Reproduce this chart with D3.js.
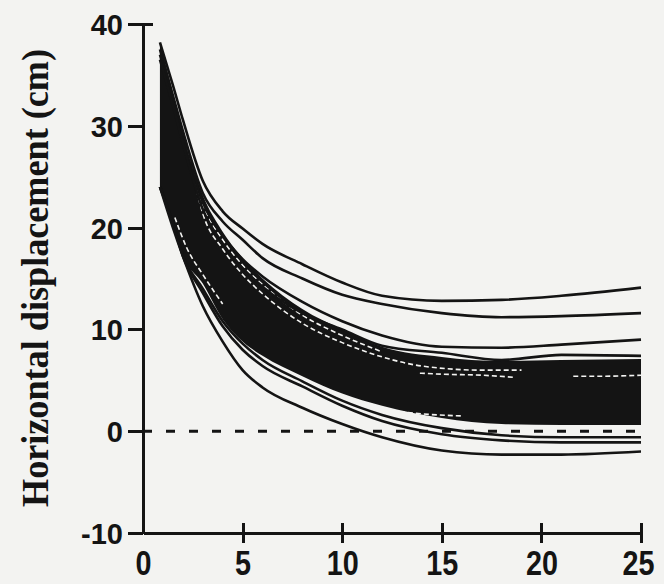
<!DOCTYPE html>
<html>
<head>
<meta charset="utf-8">
<script src="https://cdn.jsdelivr.net/npm/d3@7"></script>
<style>
  html, body { margin: 0; padding: 0; background: #f3f3f1; }
  svg { display: block; }
</style>
</head>
<body>
<svg id="chart" width="664" height="584"></svg>
<script>
// ---- data ----
const xTicks = [0, 5, 10, 15, 20, 25];
const yTicks = [-10, 0, 10, 20, 30, 40];
const yTitle = "Horizontal displacement (cm)";

// common sampling positions (x, time axis)
const xs = [0.85, 1.5, 2, 3, 4, 5, 6, 8, 10, 12, 15, 18, 21, 25];

// dense black band of overlapping curves: upper and lower envelope
const bandTop    = [38.2, 33.2, 29.4, 23.2, 19.6, 17.0, 15.0, 12.0, 10.0, 8.3, 7.3, 6.9, 7.0, 7.1];
const bandBottom = [24.0, 20.5, 17.3, 14.5, 11.0, 8.8, 7.4, 5.4, 3.7, 2.5, 1.3, 0.7, 0.6, 0.6];

// individual curves that separate from the band
const curveTop1   = [38.2, 34.0, 30.6, 24.6, 21.6, 19.9, 18.4, 16.4, 14.6, 13.3, 12.8, 12.9, 13.3, 14.1];
const curveTop2   = [37.5, 33.0, 29.5, 23.4, 20.6, 18.8, 17.0, 15.0, 13.4, 12.5, 11.6, 11.2, 11.3, 11.6];
const curveTop3   = [37.0, 32.5, 28.8, 22.5, 19.2, 16.9, 15.2, 12.7, 10.8, 9.4, 8.3, 8.2, 8.5, 9.0];
const curveTop4   = [36.5, 32.0, 28.3, 21.8, 18.4, 16.0, 14.2, 11.6, 10.0, 8.4, 7.7, 7.0, 7.5, 7.4];
const curveLow1   = [24.0, 20.5, 17.3, 14.0, 10.8, 8.6, 7.0, 4.9, 3.0, 1.6, 0.3, -0.4, -0.6, -0.6];
const curveLow2   = [24.0, 20.4, 17.2, 13.6, 10.3, 8.0, 6.4, 4.4, 2.5, 1.0, -0.3, -0.9, -1.1, -1.1];
const curveBottom = [24.0, 20.0, 17.2, 12.3, 8.8, 6.0, 4.3, 2.3, 0.7, -0.6, -1.9, -2.3, -2.3, -2.0];

// thin light gaps between curve groups inside the band
const gapA = [[2.2, 27.6], [3, 22.2], [4, 18.8], [5, 16.3], [6, 14.4], [8, 11.4], [10, 9.4], [12, 7.8]];
const gapB = [[2.6, 24.4], [3, 21.4], [4, 17.9], [5, 15.4], [6, 13.5], [8, 10.6], [10, 8.7], [12, 7.3], [14, 6.4], [17, 6.0], [19, 6.0]];
const gapC = [[13.9, 5.7], [15, 5.6], [17, 5.5], [18.6, 5.3]];
const gapD = [[21.6, 5.4], [23, 5.4], [25, 5.5]];
const gapE = [[1.6, 21.0], [2.2, 18.0], [3, 15.4], [4, 12.5]];
const gapF = [[12.5, 2.0], [14, 1.7], [16, 1.5]];

// ---- drawing ----
const svg = d3.select("#chart");
const x = d3.scaleLinear().domain([0, 25]).range([143, 641]);
const y = d3.scaleLinear().domain([-10, 40]).range([533, 24]);
const ink = "#141414";

const line = d3.line().x((d, i) => x(xs[i])).y(d => y(d)).curve(d3.curveMonotoneX);
const pairLine = d3.line().x(d => x(d[0])).y(d => y(d[1])).curve(d3.curveMonotoneX);

// band
const area = d3.area()
  .x((d, i) => x(xs[i]))
  .y0((d, i) => y(bandBottom[i]))
  .y1(d => y(d))
  .curve(d3.curveMonotoneX);
svg.append("path").datum(bandTop).attr("d", area).attr("fill", ink);

// white gaps inside band
[gapA, gapB, gapC, gapD, gapE, gapF].forEach(g => {
  svg.append("path").datum(g).attr("d", pairLine)
    .attr("fill", "none").attr("stroke", "#f3f3f1").attr("stroke-width", 1.6)
    .attr("stroke-dasharray", "5,3");
});

// zero reference line (dashed)
svg.append("line")
  .attr("x1", x(0)).attr("x2", x(25))
  .attr("y1", y(0)).attr("y2", y(0))
  .attr("stroke", ink).attr("stroke-width", 3)
  .attr("stroke-dasharray", "9,14");

// separate curves
[curveTop1, curveTop2, curveTop3, curveTop4, curveLow1, curveLow2, curveBottom].forEach(c => {
  svg.append("path").datum(c).attr("d", line)
    .attr("fill", "none").attr("stroke", ink).attr("stroke-width", 2.6);
});

// axes
const yAxis = d3.axisLeft(y).tickValues(yTicks).tickSize(15).tickSizeOuter(0).tickPadding(5)
  .tickFormat(d => String(d));
const gy = svg.append("g").attr("transform", `translate(${x(0)},0)`).call(yAxis);
gy.selectAll("path.domain").attr("stroke", ink).attr("stroke-width", 3);
gy.selectAll(".tick line").attr("stroke", ink).attr("stroke-width", 3);
gy.select(".tick:last-of-type line").attr("x2", -15).attr("x1", 10);
gy.selectAll(".tick text")
  .attr("font-family", "'Liberation Sans', Arial, sans-serif")
  .attr("font-weight", "bold").attr("font-size", 29).attr("fill", ink)
  .attr("dy", "0.36em");

const xAxis = d3.axisBottom(x).tickValues(xTicks).tickSize(10).tickSizeOuter(0)
  .tickFormat(d => String(d));
const gx = svg.append("g").attr("transform", `translate(0,${y(-10)})`).call(xAxis);
gx.selectAll("path.domain").attr("stroke", ink).attr("stroke-width", 3);
gx.selectAll(".tick line").attr("stroke", ink).attr("stroke-width", 3).attr("y1", -10).attr("y2", 10);
gx.selectAll(".tick").filter(d => d === 0).select("line").remove();
gx.selectAll(".tick text")
  .attr("font-family", "'Liberation Sans', Arial, sans-serif")
  .attr("font-weight", "bold").attr("font-size", 35).attr("fill", ink)
  .attr("y", 42).attr("dy", 0)
  .attr("textLength", d => String(d).length * 16)
  .attr("lengthAdjust", "spacingAndGlyphs");
gx.selectAll(".tick").filter(d => d === 25).select("text").attr("dx", -3);
svg.selectAll(".domain, .tick line").attr("shape-rendering", "crispEdges");

// y title
svg.append("text")
  .attr("transform", `translate(48,${(48 + 508) / 2}) rotate(-90)`)
  .attr("text-anchor", "middle")
  .attr("font-family", "'Liberation Serif', 'Times New Roman', serif")
  .attr("font-weight", "bold").attr("font-size", 38).attr("fill", ink)
  .attr("textLength", 458).attr("lengthAdjust", "spacingAndGlyphs")
  .text(yTitle);
</script>
</body>
</html>
